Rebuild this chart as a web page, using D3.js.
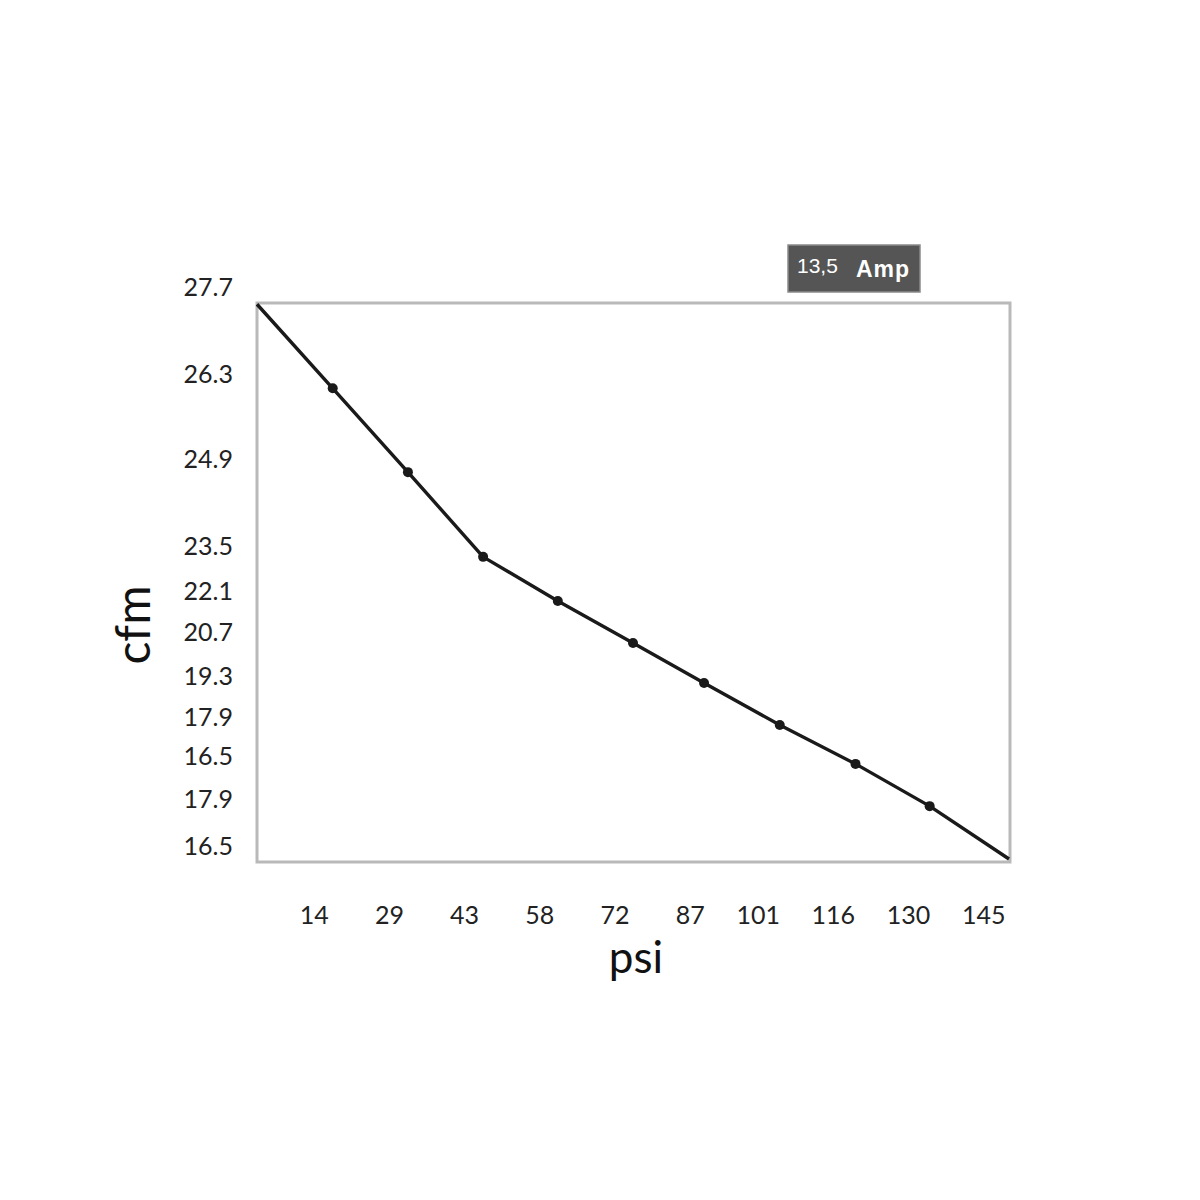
<!DOCTYPE html>
<html>
<head>
<meta charset="utf-8">
<script src="https://cdn.jsdelivr.net/npm/d3@7"></script>
<style>
  html, body { margin: 0; padding: 0; background: #fff; }
  svg { display: block; }
</style>
</head>
<body>
<svg id="chart" width="1200" height="1200"></svg>
<script>
// ---- data ----
const psiValues = [0, 14.6, 29.1, 43.6, 58.0, 72.5, 86.2, 100.8, 115.4, 129.7, 145];
const cfmValues = [27.68, 26.33, 24.95, 23.58, 22.29, 20.87, 19.59, 18.17, 16.79, 15.39, 13.79];
const markerIndex = [1, 2, 3, 4, 5, 6, 7, 8, 9];

const xTickValues = [14.5, 29, 43.5, 58, 72.5, 87, 101.5, 116, 130.5, 145];
const xTickLabels = ["14", "29", "43", "58", "72", "87", "101", "116", "130", "145"];

const yTickValues = [27.7, 26.3, 24.9, 23.5, 22.1, 20.7, 19.3, 17.9, 16.5, 15.1, 13.7];
const yTickLabels = ["27.7", "26.3", "24.9", "23.5", "22.1", "20.7", "19.3", "17.9", "16.5", "17.9", "16.5"];

const badgeNumber = "13,5";
const badgeUnit = "Amp";
const xTitle = "psi";
const yTitle = "cfm";

// ---- layout ----
const plot = { left: 257, top: 303, width: 753, height: 559 };
const yTickFractions = [0, 0.156, 0.308, 0.463, 0.544, 0.617, 0.696, 0.769, 0.839, 0.916, 1];

const svg = d3.select("#chart");

const x = d3.scaleLinear()
  .domain([0, 145])
  .range([plot.left, plot.left + plot.width - 1]);

const y = d3.scaleLinear()
  .domain(yTickValues)
  .range(yTickFractions.map(f => plot.top + f * plot.height));

// plot frame
svg.append("rect")
  .attr("x", plot.left).attr("y", plot.top)
  .attr("width", plot.width).attr("height", plot.height)
  .attr("fill", "none")
  .attr("stroke", "#b9b9b9")
  .attr("stroke-width", 3);

// x axis (labels only)
const xAxis = d3.axisBottom(x)
  .tickValues(xTickValues)
  .tickFormat((d, i) => xTickLabels[i])
  .tickSize(0);
const gx = svg.append("g")
  .attr("transform", `translate(0, ${plot.top + plot.height})`)
  .call(xAxis);
gx.select(".domain").remove();
gx.selectAll("text")
  .attr("text-anchor", "end")
  .attr("dx", -4)
  .attr("y", 62)
  .attr("dy", 0)
  .attr("fill", "#222")
  .style("font-family", "Lato, 'Open Sans', sans-serif")
  .style("font-size", "25px");

// y axis (labels only)
const yAxis = d3.axisLeft(y)
  .tickValues(yTickValues)
  .tickFormat((d, i) => yTickLabels[i])
  .tickSize(0);
const gy = svg.append("g")
  .attr("transform", `translate(${plot.left}, 0)`)
  .call(yAxis);
gy.select(".domain").remove();
gy.selectAll("text")
  .attr("text-anchor", "end")
  .attr("x", -24)
  .attr("dy", "-0.3em")
  .attr("fill", "#222")
  .style("font-family", "Lato, 'Open Sans', sans-serif")
  .style("font-size", "25px");

// axis titles
svg.append("text")
  .attr("x", 636).attr("y", 973)
  .attr("text-anchor", "middle")
  .attr("fill", "#111")
  .style("font-family", "Lato, 'Open Sans', sans-serif")
  .style("font-size", "44px")
  .text(xTitle);

svg.append("text")
  .attr("transform", "translate(150, 625) rotate(-90)")
  .attr("text-anchor", "middle")
  .attr("fill", "#111")
  .style("font-family", "Lato, 'Open Sans', sans-serif")
  .style("font-size", "48px")
  .text(yTitle);

// line
const pts = psiValues.map((p, i) => [p, cfmValues[i]]);
svg.append("path")
  .datum(pts)
  .attr("fill", "none")
  .attr("stroke", "#1a1a1a")
  .attr("stroke-width", 3.4)
  .attr("stroke-linejoin", "round")
  .attr("d", d3.line().x(d => x(d[0])).y(d => y(d[1])));

// markers
svg.append("g").selectAll("circle")
  .data(markerIndex)
  .join("circle")
  .attr("cx", i => x(psiValues[i]))
  .attr("cy", i => y(cfmValues[i]))
  .attr("r", 5)
  .attr("fill", "#1a1a1a");

// badge
const badge = svg.append("g");
badge.append("rect")
  .attr("x", 788).attr("y", 245)
  .attr("width", 132).attr("height", 47)
  .attr("fill", "#555555")
  .attr("stroke", "#8a8a8a")
  .attr("stroke-width", 1.5);
badge.append("text")
  .attr("x", 797).attr("y", 273)
  .attr("fill", "#fff")
  .style("font-family", "'Liberation Sans', Arial, sans-serif")
  .style("font-size", "21px")
  .text(badgeNumber);
badge.append("text")
  .attr("x", 856).attr("y", 277)
  .attr("fill", "#fff")
  .style("font-family", "'Liberation Sans', Arial, sans-serif")
  .style("font-weight", "bold")
  .style("font-size", "23px")
  .style("letter-spacing", "1px")
  .text(badgeUnit);
</script>
</body>
</html>
